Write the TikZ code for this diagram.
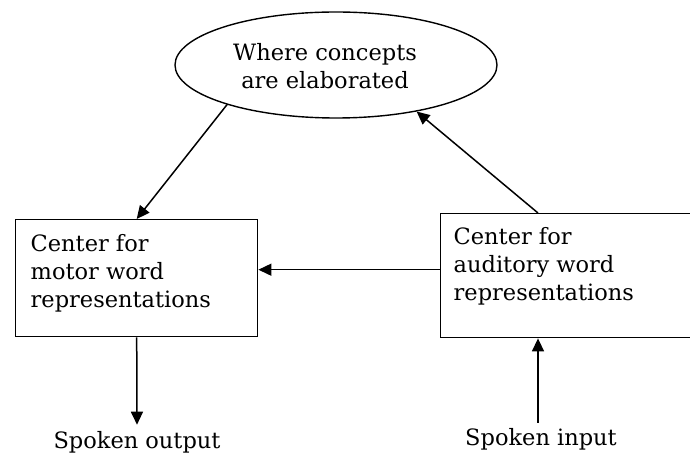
\documentclass[tikz,border=0pt]{standalone}
\usepackage{fontspec}
\setmainfont{DejaVu Serif}
\usetikzlibrary{arrows.meta,shapes.geometric,positioning}

\newcommand{\boxlines}[3]{\parbox[c][#2][t]{#1}{\raggedright #3}}

\begin{document}
\begin{tikzpicture}[x=1pt, y=-1pt,
    every node/.style={font=\fontsize{22.5}{28}\selectfont},
    centre/.style={draw, line width=1.4pt, anchor=north west, inner xsep=15pt, inner ysep=15pt},
    concept/.style={draw, ellipse, line width=1.4pt, minimum width=322pt, minimum height=106pt, inner sep=0pt},
    flow/.style={line width=1.5pt, -{Triangle[length=13pt,width=12pt]}}
  ]
  % 1. Page frame
  \clip (0,0) rectangle (690,454);

  % 2. Concept ellipse
  \node[concept] (concepts) at (336,65) {};
  \node[align=center] (conceptlabel) at (325,66) {Where concepts\\are elaborated};

  % 3. The two centres
  \node[centre] (motor) at (15,219)
    {\boxlines{212pt}{87pt}{Center for\\motor word\\representations}};
  \node[centre, inner xsep=13pt, inner ysep=14pt] (auditory) at (440,213)
    {\boxlines{228pt}{96pt}{Center for\\auditory word\\representations}};
  \coordinate (concepttap) at ([xshift=98pt]auditory.north west);
  \coordinate (inputtap) at ([xshift=98pt]auditory.south west);

  % 4. Speech in and out
  \node[anchor=base, inner sep=0pt] (output) at (137,448) {Spoken output};
  \node[anchor=base, inner sep=0pt] (input) at (541,445) {Spoken input};
  \coordinate (inputfoot) at ([yshift=5pt]input.north);

  % 5. Connectors
  \draw[flow] (concepts.200) -- (motor.north);
  \draw[flow] (concepttap) -- (concepts.330);
  \draw[flow] ([yshift=6pt]auditory.west) -- ([yshift=6pt]auditory.west -| motor.east);
  \draw[flow] (motor.south) -- ([yshift=6pt]output.north);
  \draw[flow] (inputfoot -| inputtap) -- (inputtap);
\end{tikzpicture}
\end{document}
